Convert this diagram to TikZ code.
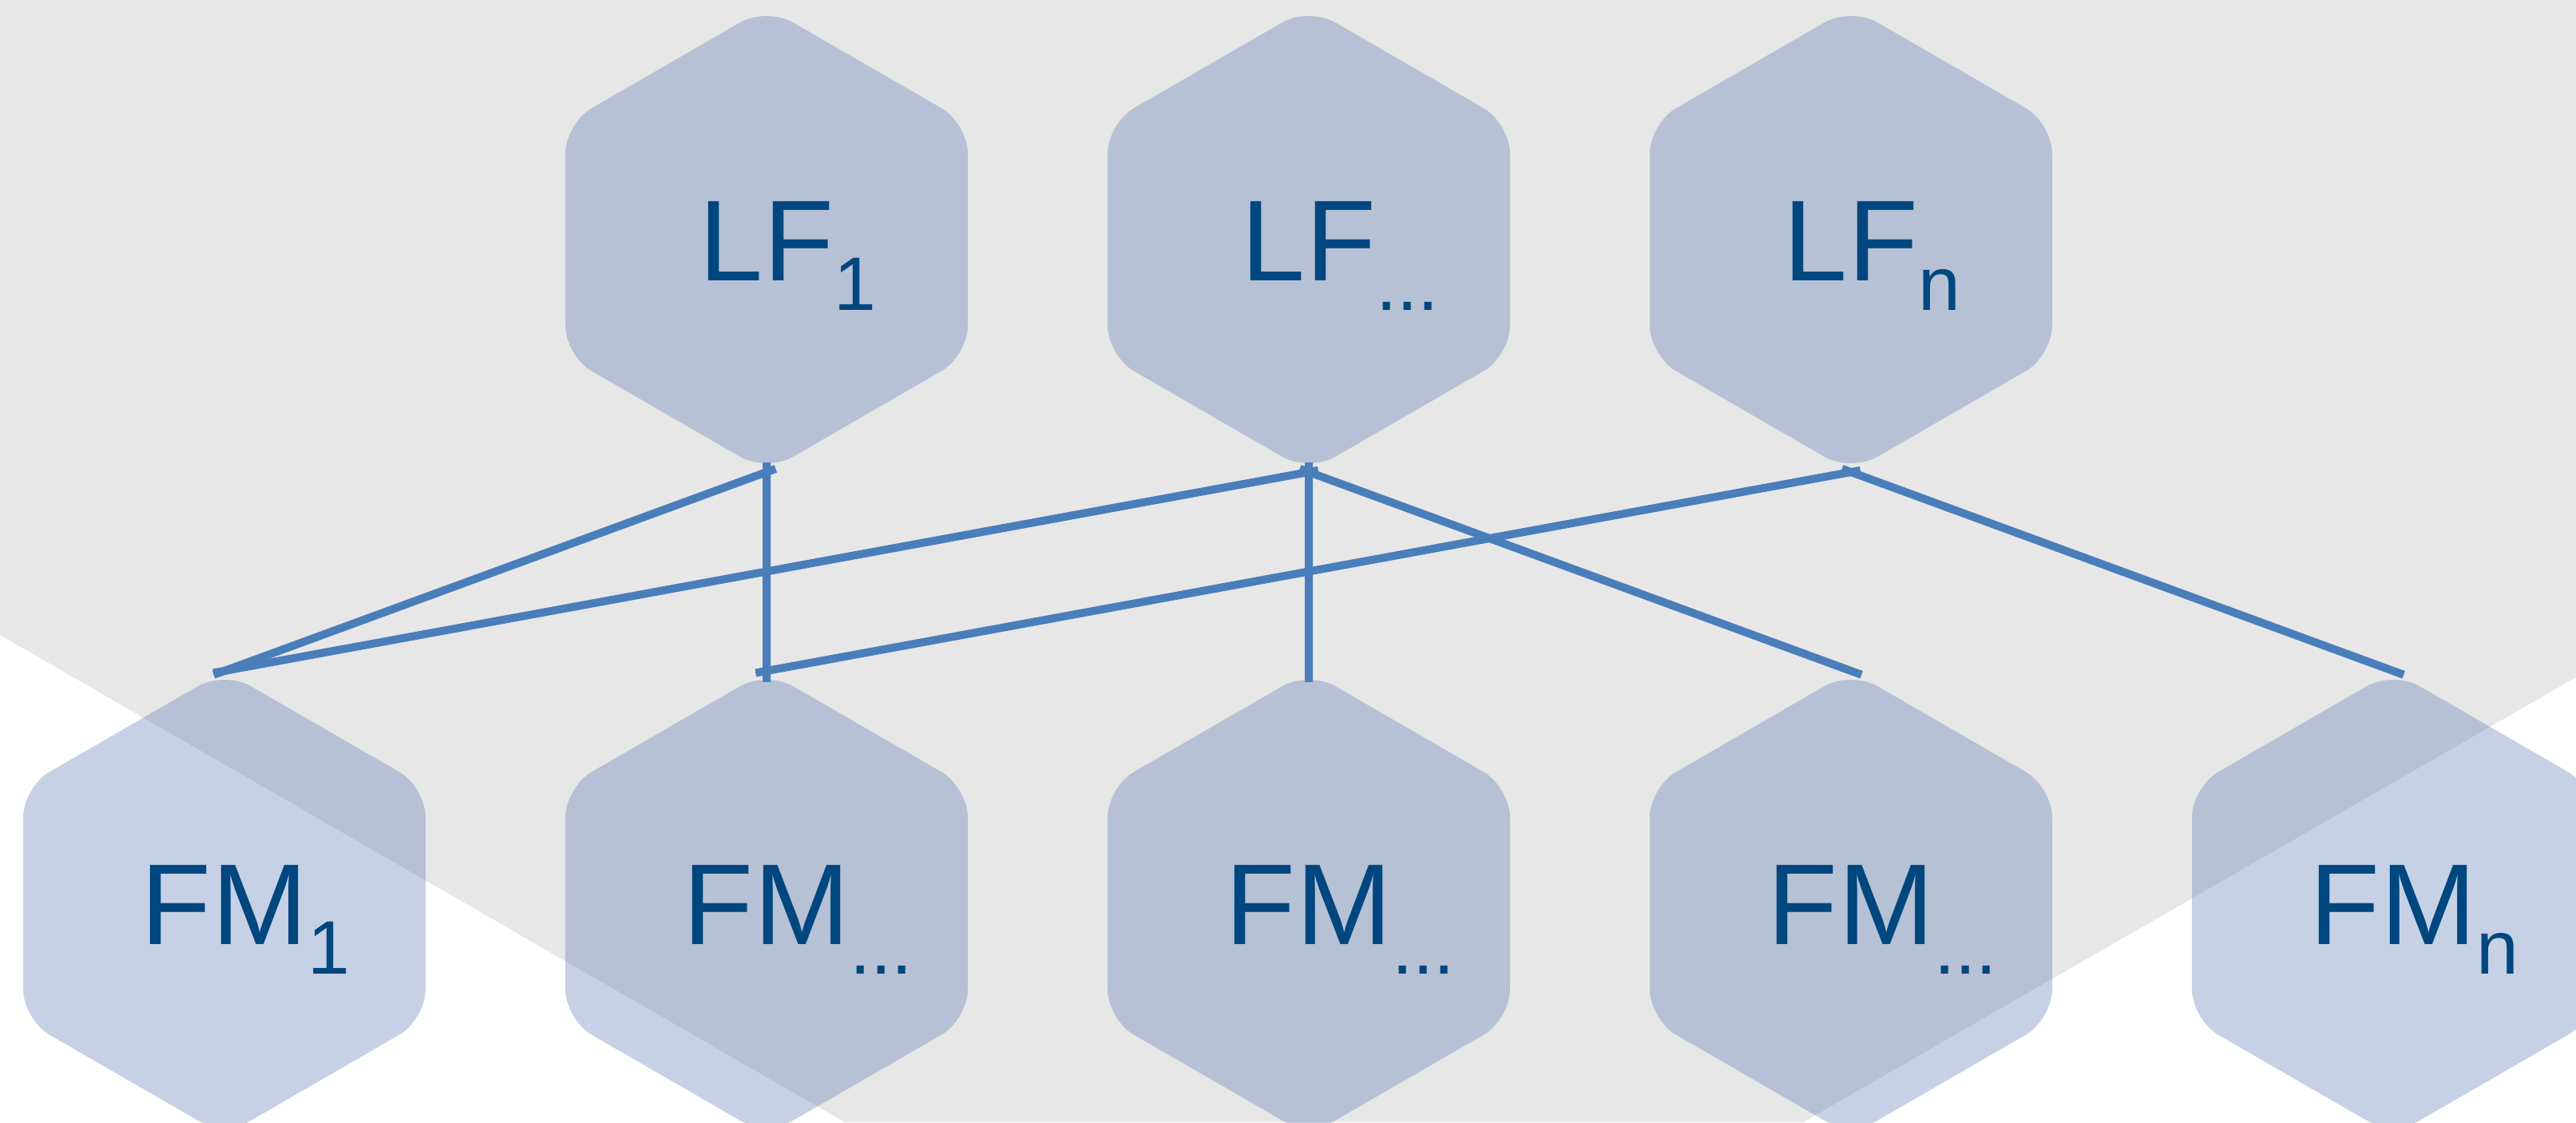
\documentclass[tikz,border=0pt]{standalone}
\usepackage{fontspec}
\setmainfont{Liberation Sans}
\usetikzlibrary{shapes.geometric}

\definecolor{bgrey}{RGB}{231,231,231}
\definecolor{hexfill}{RGB}{92,124,181}
\definecolor{hextext}{RGB}{0,70,127}
\definecolor{linkblue}{RGB}{74,126,187}

\newcommand{\hexsub}[1]{\rlap{\raisebox{-0.37cm}{\fontsize{27}{27}\selectfont #1}}}

\begin{document}
\begin{tikzpicture}[
	hexa/.style={shape=regular polygon, regular polygon sides=6, shape border rotate=30,
		minimum size=5.82cm, inner sep=0pt, outer sep=0pt,
		fill=hexfill, fill opacity=0.35, text opacity=1, rounded corners=0.38cm,
		text=hextext, font=\fontsize{41}{41}\selectfont, text height=1.03cm, text depth=0cm},
	link/.style={draw=linkblue, line width=0.1cm, shorten <=-0.12cm, shorten >=-0.14cm}]
			\useasboundingbox (0,0) rectangle (32.26,14.05);
			\clip (0,0) rectangle (32.26,14.05);
			\fill[bgrey] (0,14.05) -- (32.26,14.05) -- (32.26,5.57) -- (22.58,0) -- (10.58,0) -- (0,6.10) -- cycle;
			
			\node[hexa] (lf1) at (9.60,11.05) {LF\hexsub{1}};
			\node[hexa] (lf2) at (16.39,11.05) {LF\hexsub{...}};
			\node[hexa] (lfn) at (23.18,11.05) {LF\hexsub{n}};
			\node[hexa] (fm1) at (2.81,2.74) {FM\hexsub{1}};
			\node[hexa] (fm2) at (9.60,2.74) {FM\hexsub{...}};
			\node[hexa] (fm3) at (16.39,2.74) {FM\hexsub{...}};
			\node[hexa] (fm4) at (23.18,2.74) {FM\hexsub{...}};
			\node[hexa] (fmn) at (29.97,2.74) {FM\hexsub{n}};
			
			\path [link] (lf1.270) edge (fm1.90);
			\path [link] (lf1.270) edge (fm2.90);
			\path [link] (lf2.270) edge (fm1.90);
			\path [link] (lf2.270) edge (fm3.90);
			\path [link] (lf2.270) edge (fm4.90);
			\path [link] (lfn.270) edge (fm2.90);
			\path [link] (lfn.270) edge (fmn.90);
\end{tikzpicture}
\end{document}
